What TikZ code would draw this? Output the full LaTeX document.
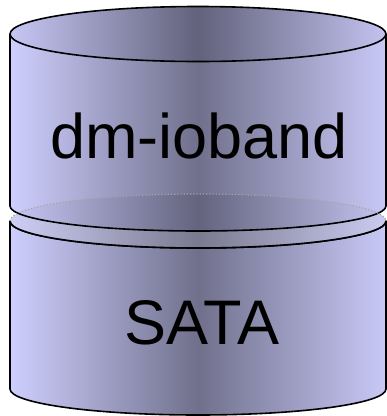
\documentclass[tikz,border=0pt]{standalone}
\usepackage{fontspec}
\setmainfont{Liberation Sans}
\begin{document}
\begin{tikzpicture}[x=1pt,y=-1pt,
  outline/.style={draw=black,line width=1.6pt,line join=round},
  bodyshade/.style={left color=edgecol,right color=edgecol!97!black,middle color=bodymid},
  faceshade/.style={left color=edgecol!96!black,right color=edgecol!94!black,middle color=facemid},
  label/.style={font=\fontsize{63}{70}\selectfont,anchor=base,inner sep=0pt}]
\definecolor{edgecol}{RGB}{207,207,255}
\definecolor{bodymid}{RGB}{112,112,140}
\definecolor{facemid}{RGB}{98,98,124}
\useasboundingbox (0,0) rectangle (387,416);

% lower drum: body
\path[bodyshade,outline] (10,221) -- (10,389)
  arc[start angle=180,end angle=0,x radius=188,y radius=26] -- (386,221)
  arc[start angle=0,end angle=180,x radius=188,y radius=27] -- cycle;

% upper drum: body
\path[bodyshade] (10,34) -- (10,206)
  arc[start angle=180,end angle=0,x radius=188,y radius=25] -- (386,34)
  arc[start angle=0,end angle=180,x radius=188,y radius=27.5] -- cycle;

% lower drum: top face, seen through the upper drum
\path[faceshade,fill opacity=0.85] (198,221) ellipse[x radius=188,y radius=27];

% outlines of the upper drum
\draw[outline] (10,34) -- (10,206)
  arc[start angle=180,end angle=0,x radius=188,y radius=25] -- (386,34);
\path[faceshade,outline] (198,34) ellipse[x radius=188,y radius=27.5];

% rim of the lower drum: front half solid, back half hidden
\draw[outline] (10,221) arc[start angle=180,end angle=0,x radius=188,y radius=27];
\draw[gray!70,line width=1.2pt,dotted] (10,221) arc[start angle=180,end angle=360,x radius=188,y radius=27];

\node[label] (top) at (199,158) {dm-ioband};
\node[label] (bottom) at (202,344) {SATA};
\end{tikzpicture}
\end{document}
